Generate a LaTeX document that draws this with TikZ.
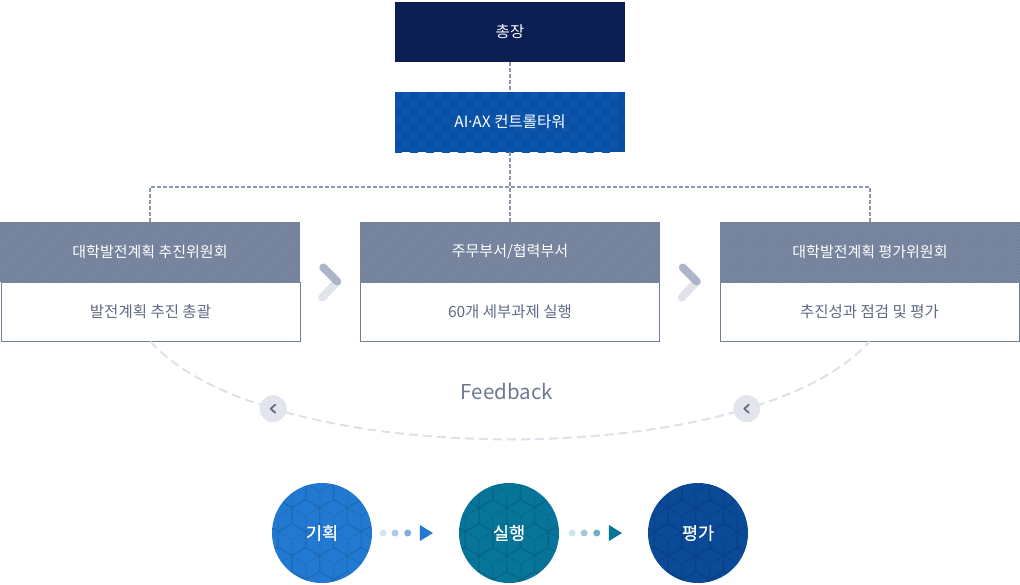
\documentclass[tikz,border=0pt]{standalone}
\usepackage{fontspec}
\setmainfont{Noto Sans CJK KR}
\newfontfamily\latinf{Noto Sans}
\newfontfamily\cjkmedium{Noto Sans CJK KR}[FakeBold=0.8]
\usetikzlibrary{calc,patterns,backgrounds}
\definecolor{navy}{HTML}{0B1E54}
\definecolor{aiblue}{HTML}{0A4FA3}
\definecolor{aiblue2}{HTML}{0B56AD}
\definecolor{slate}{HTML}{717F99}
\definecolor{slatelight}{HTML}{8190AA}
\definecolor{bodytxt}{HTML}{5F6B82}
\definecolor{dashc}{HTML}{8C96AC}
\definecolor{fbline}{HTML}{DDE1E9}
\definecolor{fbcircc}{HTML}{E3E5EC}
\definecolor{fbtxt}{HTML}{6D7891}
\definecolor{fbchevc}{HTML}{5F6C88}
\definecolor{chevhic}{HTML}{A9B1C6}
\definecolor{chevloc}{HTML}{E1E3EB}
\definecolor{cone}{HTML}{2279D1}
\definecolor{ctwo}{HTML}{077499}
\definecolor{cthree}{HTML}{0A4A97}
\definecolor{da}{HTML}{D3E4F6}
\definecolor{db}{HTML}{A9CAEC}
\definecolor{dc}{HTML}{7DAFE2}
\definecolor{dd}{HTML}{CDE5EC}
\definecolor{de}{HTML}{9FCCD8}
\definecolor{df}{HTML}{6FB0C3}
\newcommand\hexfillpat{%
  \begin{scope}[shift={(path picture bounding box.center)}]
    \foreach \row in {-3,...,3}{
      \foreach \col in {-3,...,3}{
        \pgfmathsetmacro\cx{\col*27.7+mod(\row+3,2)*13.85}
        \pgfmathsetmacro\cy{\row*24}
        \draw[black,opacity=0.055,line width=1.4pt,line join=round]
          (\cx,\cy) +(30:16) -- +(90:16) -- +(150:16) -- +(210:16) -- +(270:16) -- +(330:16) -- cycle
          (\cx,\cy) -- +(90:16) (\cx,\cy) -- +(210:16) (\cx,\cy) -- +(330:16);
      }}
  \end{scope}}
\newcommand\aicheckpat{%
  \begin{scope}[shift={(path picture bounding box.center)}]
    \foreach \i in {-20,...,20}{
      \foreach \j in {-9,...,9}{
        \pgfmathtruncatemacro\pp{mod(\i+\j+40,2)}
        \ifnum\pp=0 \fill[aiblue2] (\i*8-4,\j*8-4) rectangle ++(8,8);\fi
      }}
  \end{scope}}
\begin{document}
\begin{tikzpicture}[x=1pt,y=-1pt,
  topbox/.style={rectangle,minimum width=230pt,minimum height=60pt,inner sep=0pt,text=white,font=\fontsize{15.5}{17}\selectfont},
  headbox/.style={rectangle,minimum width=300pt,minimum height=60pt,inner sep=0pt,fill=slate,text=white,
    font=\fontsize{15}{17}\selectfont,postaction={pattern=north east lines,pattern color=slatelight}},
  bodybox/.style={rectangle,minimum width=299pt,minimum height=59pt,inner sep=0pt,draw=slate,line width=1pt,fill=white,
    text=bodytxt,font=\fontsize{15.5}{17}\selectfont},
  orgdash/.style={draw=dashc,line width=1.6pt,dash pattern=on 4pt off 2pt},
  chevhi/.style={draw=chevhic,line width=8pt,line cap=round,opacity=0.95},
  chevlo/.style={draw=chevloc,line width=8pt,line cap=round},
  fbdash/.style={draw=fbline,line width=2pt,dash pattern=on 9pt off 5pt},
  fbcirc/.style={circle,fill=fbcircc,minimum size=27pt,inner sep=0pt},
  fbchev/.style={draw=fbchevc,line width=1.8pt,line cap=round,line join=round},
  fbtext/.style={text=fbtxt,font=\fontsize{20.5}{22}\selectfont,inner sep=0pt},
  stage/.style={circle,minimum size=100pt,inner sep=0pt,text=white,font=\cjkmedium\fontsize{17.5}{19}\selectfont,path picture={\hexfillpat}},
  dotnode/.style={circle,minimum size=7pt,inner sep=0pt}
]
\useasboundingbox (0,0) rectangle (1020,584);

% top
\node[topbox,fill=navy] (boss) at (510,32) {총장};
\node[topbox,fill=aiblue,path picture={\aicheckpat}] (ai) at (510,122) {AI{\latinf ·}AX 컨트롤타워};

% three boxes
\node[bodybox] (b1) at (150.5,311.5) {발전계획 추진 총괄};
\node[bodybox] (b2) at (510,311.5) {60개 세부과제 실행};
\node[bodybox] (b3) at (869.5,311.5) {추진성과 점검 및 평가};
\node[headbox] (h1) at (150,252) {대학발전계획 추진위원회};
\node[headbox] (h2) at (510,252) {주무부서/협력부서};
\node[headbox] (h3) at (870,252) {대학발전계획 평가위원회};

% org connectors
\coordinate (bus) at (510,187);
\draw[orgdash] (boss) -- (ai);
\draw[orgdash] (ai) -- (h2);
\draw[orgdash] (h1.north) -- (h1.north |- bus) -- (h3.north |- bus) -- (h3.north);

% chevrons between boxes
\coordinate (g1) at ($(b1.north east)!0.5!(b2.north west)$);
\coordinate (g2) at ($(b2.north east)!0.5!(b3.north west)$);
\foreach \g in {g1,g2}{
  \draw[chevlo] (\g) ++(7,0) -- ++(-15,16);
  \draw[chevhi] (\g) ++(7,0) -- ++(-14,-14);
}

% feedback
\node[fbtext] (fb) at (507,391) {Feedback};
\draw[fbdash] (b1.south) .. controls (267,472) and (753,472) .. (b3.south)
  node[fbcirc,pos=0.22] (f1) {} node[fbcirc,pos=0.78] (f2) {};
\foreach \f in {f1,f2}{
  \draw[fbchev] (\f.center) ++(2,-4) -- ++(-4.5,4) -- ++(4.5,4);
}

% bottom stages
\node[stage,fill=cone] (s1) at (322,533) {기획};
\node[stage,fill=ctwo] (s2) at (509,533) {실행};
\node[stage,fill=cthree] (s3) at (698,533) {평가};

\path (s1.east) -- (s2.west)
  node[dotnode,fill=da,pos=0.126] {}
  node[dotnode,fill=db,pos=0.264] {}
  node[dotnode,fill=dc,pos=0.41] {}
  coordinate[pos=0.626] (t1);
\fill[cone] (t1) ++(-6.5,-8) -- ++(13,8) -- ++(-13,8) -- cycle;

\path (s2.east) -- (s3.west)
  node[dotnode,fill=dd,pos=0.146] {}
  node[dotnode,fill=de,pos=0.281] {}
  node[dotnode,fill=df,pos=0.424] {}
  coordinate[pos=0.635] (t2);
\fill[ctwo] (t2) ++(-6.5,-8) -- ++(13,8) -- ++(-13,8) -- cycle;
\end{tikzpicture}
\end{document}
